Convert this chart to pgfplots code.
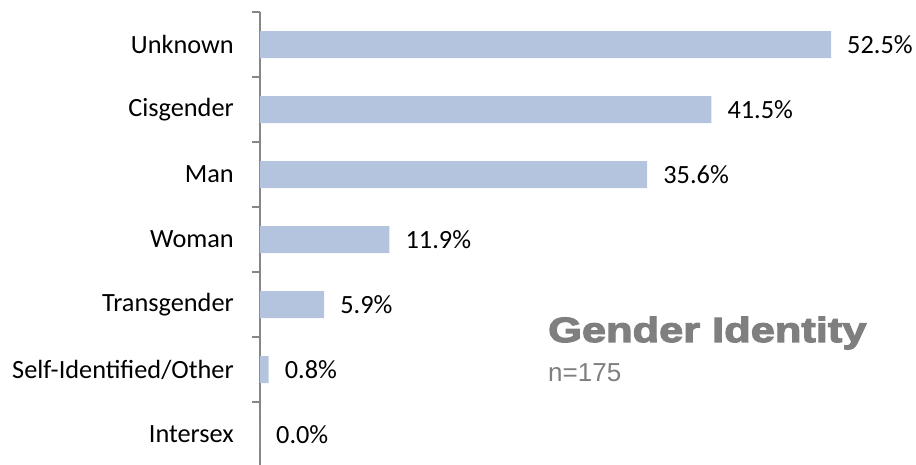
\documentclass[border=0pt]{standalone}
\usepackage{fontspec}
\setmainfont{Carlito}
\newfontfamily\arialf{Liberation Sans}
\newfontfamily\blackf[FakeBold=3.5,FakeStretch=1.24]{Liberation Sans Bold}
\usepackage{pgfplots}
\pgfplotsset{compat=1.18}
\definecolor{barc}{RGB}{180,196,223}
\definecolor{axc}{RGB}{134,134,134}
\definecolor{titc}{RGB}{127,127,127}
\begin{document}
\begin{tikzpicture}[font=\fontsize{26.3}{31}\selectfont]
\begin{axis}[
 at={(0,0)}, anchor=south west,
 scale only axis, width=571pt, height=455pt,
 xbar, bar width=27pt, bar shift=0pt,
 xmin=0, xmax=52.5, ymin=-0.5, ymax=6.5, y dir=reverse,
 axis x line=none, axis y line*=left,
 axis line style={axc, line width=1.5pt, -},
 ytick={0,...,6},
 yticklabels={Unknown,Cisgender,Man,Woman,Transgender,Self-Identified/Other,Intersex},
 major tick length=0pt,
 minor ytick={-0.5,0.5,...,6.5},
 minor tick length=8pt, tick align=outside,
 minor tick style={axc, line width=1.5pt},
 y tick label style={anchor=east, inner sep=0pt, xshift=-26pt},
 nodes near coords={\pgfmathprintnumber[fixed,fixed zerofill,precision=1,assume math mode=true]{\pgfplotspointmeta}\%},
 nodes near coords style={anchor=west, inner sep=0pt, xshift=16pt, black},
 clip=false,
]
\addplot[fill=barc, draw=none] coordinates {(52.5,0) (41.5,1) (35.6,2) (11.9,3) (5.9,4) (0.8,5) (0,6)};
\end{axis}
\node[anchor=base west, inner sep=0pt, text=titc, font=\blackf\fontsize{35}{40}\selectfont] at (288pt,125pt) {Gender Identity};
\node[anchor=base west, inner sep=0pt, text=titc, font=\arialf\fontsize{26}{30}\selectfont] at (288pt,86pt) {n=175};
\pgfresetboundingbox
\path[use as bounding box] (-260pt,3pt) rectangle (656pt,467pt);
\end{tikzpicture}
\end{document}
